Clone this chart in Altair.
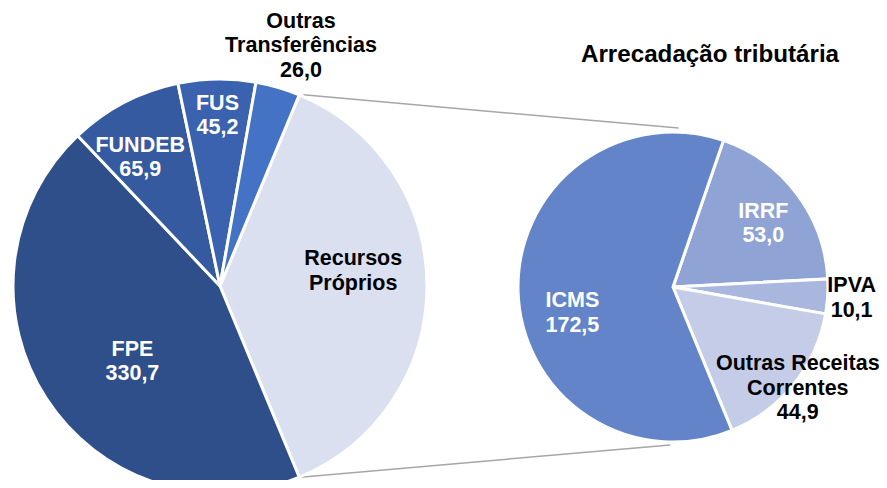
import math
import altair as alt
import pandas as pd

# ---- data ----
left_cats = ["Recursos Próprios", "FPE", "FUNDEB", "FUS", "Outras Transferências"]
left_vals = [280.5, 330.7, 65.9, 45.2, 26.0]
right_cats = ["IRRF", "IPVA", "Outras Receitas Correntes", "ICMS"]
right_vals = [53.0, 10.1, 44.9, 172.5]
title_text = "Arrecadação tributária"

left_labels = ["Recursos\nPróprios", "FPE\n330,7", "FUNDEB\n65,9", "FUS\n45,2",
               "Outras\nTransferências\n26,0"]
right_labels = ["IRRF\n53,0", "IPVA\n10,1", "Outras Receitas\nCorrentes\n44,9", "ICMS\n172,5"]

# ---- style / layout ----
left_colors = ["#DAE0F0", "#2F4F8A", "#355A9F", "#3B62AE", "#4472C4"]
right_colors = ["#8FA3D5", "#A9B7DF", "#C4CCE7", "#6384C8"]
left_text_colors = ["black", "white", "white", "white", "black"]
right_text_colors = ["white", "black", "black", "white"]

W, H = 871, 472
LCX, LCY, LR = 212, 278, 207
RCX, RCY, RR = 665, 279, 155
# label placement: (radius, angle shift in degrees) relative to slice mid-angle
left_lab_pos = [(134, -6.3), (116, -8), (151, -4.3), (170, 0), (253, 2.4)]
right_lab_pos = [(110, 2.2), (179, 0.2), (161, 0.4), (104, -13)]
RIGHT_START_DEG = 19.0
FONT = "Liberation Sans"
FS = 21.5
LH = 24.5

left_total = sum(left_vals)
right_total = sum(right_vals)
left_start = 90.0 - 0.5 * left_vals[0] / left_total * 360.0
right_start = RIGHT_START_DEG


def slice_angles(vals, start):
    tot = sum(vals)
    out = []
    a = start
    for v in vals:
        span = v / tot * 360.0
        out.append((a, a + span))
        a += span
    return out


def polar(cx, cy, r, deg):
    t = math.radians(deg)
    return cx + r * math.sin(t), cy - r * math.cos(t)


left_ang = slice_angles(left_vals, left_start)
right_ang = slice_angles(right_vals, right_start)

left_df = pd.DataFrame({"cat": left_cats, "value": left_vals, "ord": range(len(left_cats))})
right_df = pd.DataFrame({"cat": right_cats, "value": right_vals, "ord": range(len(right_cats))})

lab_rows = []
for cats, labs, angs, pos, cols, cx, cy in [
    (left_cats, left_labels, left_ang, left_lab_pos, left_text_colors, LCX, LCY),
    (right_cats, right_labels, right_ang, right_lab_pos, right_text_colors, RCX, RCY),
]:
    for c, lab, (a0, a1), (r, sh), col in zip(cats, labs, angs, pos, cols):
        x, y = polar(cx, cy, r, (a0 + a1) / 2 + sh)
        n = lab.count("\n") + 1
        y -= (n - 1) * LH / 2.0  # centre the multi-line block
        lab_rows.append({"label": lab, "lx": x, "ly": y, "tc": col})
lab_df = pd.DataFrame(lab_rows)

# connector lines: from Recursos Próprios edges to top/bottom of second pie
p1 = polar(LCX, LCY, LR, left_ang[0][0])
p2 = polar(LCX, LCY, LR, left_ang[0][1])
q1 = polar(RCX, RCY, RR + 4, 2)
q2 = polar(RCX, RCY, RR + 3, 181)
line_df = pd.DataFrame({"x": [p1[0] + 4, p2[0] + 1], "y": [p1[1], p2[1]],
                        "x2": [q1[0], q2[0]], "y2": [q1[1], q2[1]]})

lines = alt.Chart(line_df).mark_rule(color="#A6A6A6", strokeWidth=1.5).encode(
    x=alt.X("x:Q", scale=None, axis=None), y=alt.Y("y:Q", scale=None, axis=None),
    x2="x2:Q", y2="y2:Q")

left_pie = alt.Chart(left_df).mark_arc(outerRadius=LR, stroke="white", strokeWidth=3).encode(
    theta=alt.Theta("value:Q", stack=True,
                    scale=alt.Scale(range=[math.radians(left_start), math.radians(left_start) + 2 * math.pi])),
    order=alt.Order("ord:Q"),
    color=alt.Color("cat:N", scale=alt.Scale(domain=left_cats, range=left_colors), legend=None),
    x=alt.value(LCX), y=alt.value(LCY))

right_pie = alt.Chart(right_df).mark_arc(outerRadius=RR, stroke="white", strokeWidth=3).encode(
    theta=alt.Theta("value:Q", stack=True,
                    scale=alt.Scale(range=[math.radians(right_start), math.radians(right_start) + 2 * math.pi])),
    order=alt.Order("ord:Q"),
    color=alt.Color("cat:N", scale=alt.Scale(domain=right_cats, range=right_colors), legend=None),
    x=alt.value(RCX), y=alt.value(RCY))

labels = alt.Chart(lab_df).mark_text(font=FONT, fontSize=FS, fontWeight="bold", lineBreak="\n",
                                     lineHeight=LH, align="center", baseline="middle").encode(
    x=alt.X("lx:Q", scale=None, axis=None), y=alt.Y("ly:Q", scale=None, axis=None),
    text="label:N", color=alt.Color("tc:N", scale=None))

title = alt.Chart(pd.DataFrame({"t": [title_text]})).mark_text(
    font=FONT, fontSize=24.2, fontWeight="bold", align="center", baseline="middle", color="black").encode(
    x=alt.value(702), y=alt.value(47), text="t:N")

chart = alt.layer(lines, left_pie, right_pie, labels, title).resolve_scale(
    color="independent", theta="independent").properties(
    width=W, height=H, padding=0, autosize=alt.AutoSizeParams(type="none")).configure_view(stroke=None)

chart.save("out.html", embed_options={"renderer": "svg", "actions": False})
